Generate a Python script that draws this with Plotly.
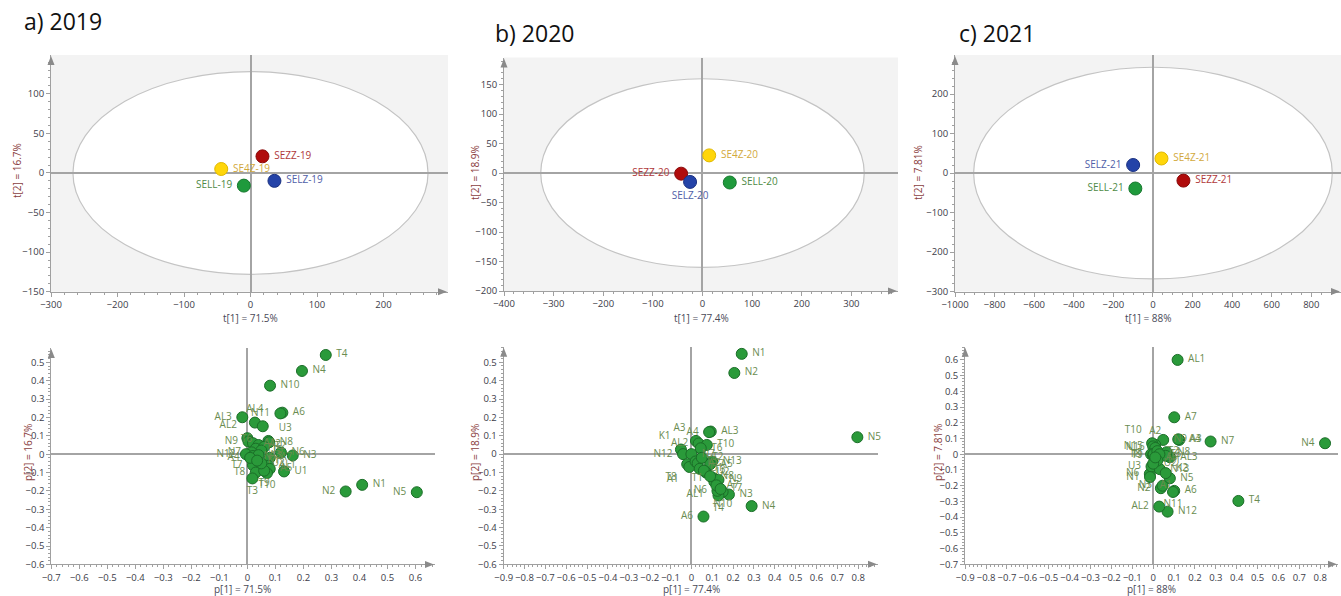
import plotly.graph_objects as go

W, H = 1341, 596

# ---------------- Score plots (top row) ----------------
score_names_19 = ["SEZZ-19", "SE4Z-19", "SELZ-19", "SELL-19"]
score_t1_19 = [18, -44, 36, -10]
score_t2_19 = [21, 5, -10, -16]

score_names_20 = ["SEZZ-20", "SE4Z-20", "SELZ-20", "SELL-20"]
score_t1_20 = [-43, 13.5, -25, 55]
score_t2_20 = [-1, 30, -15, -16]

score_names_21 = ["SEZZ-21", "SE4Z-21", "SELZ-21", "SELL-21"]
score_t1_21 = [154, 43, -100, -89]
score_t2_21 = [-19, 37, 20.5, -39]

# Hotelling T2 ellipse semi-axes (t1, t2)
ellipse_19 = (267, 128)
ellipse_20 = (326, 160)
ellipse_21 = (906, 268)

# ---------------- Loading plots (bottom row) ----------------
load_names_19 = ["T4", "N4", "N10", "A6", "N11", "AL3", "AL4", "T6", "U3", "N8", "AL2", "N9",
                 "A1", "A2", "T1", "T2", "T5", "N7", "N12", "N13", "A3", "N6", "A7", "AL1", "A5",
                 "T7", "T8", "T3", "T10", "T9", "U1", "U2", "N3", "N2", "N1", "N5", "A4", "K1"]
load_p1_19 = [0.28, 0.195, 0.081, 0.125, 0.118, -0.018, 0.027, 0.055, 0.075, 0.078, 0.0, 0.004,
              0.02, 0.04, 0.03, 0.06, 0.05, 0.015, -0.005, 0.02, 0.04, 0.12, 0.08, 0.075, 0.08,
              0.02, 0.03, 0.018, 0.07, 0.06, 0.131, 0.05, 0.162, 0.351, 0.41, 0.605, 0.01, 0.035]
load_p2_19 = [0.54, 0.453, 0.373, 0.226, 0.222, 0.201, 0.172, 0.152, 0.072, 0.065, 0.087, 0.069,
              0.06, 0.05, 0.03, 0.04, 0.02, 0.01, 0.0, -0.01, -0.005, 0.009, -0.02, -0.063, -0.08,
              -0.06, -0.1, -0.132, -0.103, -0.09, -0.094, -0.05, -0.007, -0.203, -0.167, -0.207, -0.02, -0.035]
load_pos_19 = ["middle right", "middle right", "middle right", "middle right", "middle left",
               "middle left", "top center", "bottom left", "top right", "middle right", "top left",
               "middle left", "middle right", "middle right", "middle right", "middle right",
               "middle right", "middle left", "middle left", "middle right", "middle right",
               "middle right", "middle right", "middle right", "middle right", "middle left",
               "middle left", "bottom center", "bottom center", "bottom center", "middle right",
               "middle right", "middle right", "middle left", "middle right", "middle left",
               "middle left", "middle right"]

load_names_20 = ["N1", "N2", "N5", "N4", "A6", "AL3", "A4", "A3", "AL2", "K1", "N12", "T10", "T6",
                 "N7", "T8", "A1", "T5", "A2", "N13", "A5", "T1", "AL1", "N9", "N3", "N10", "T4",
                 "N6", "U1", "U2", "T2", "T3", "N8", "A7", "T7"]
load_p1_20 = [0.2415, 0.206, 0.796, 0.289, 0.058, 0.093, 0.085, 0.022, 0.035, -0.05, -0.04, 0.074,
              0.045, 0.0, -0.02, -0.01, 0.02, 0.03, 0.1, 0.09, 0.106, 0.11, 0.13, 0.18, 0.15,
              0.13, 0.125, 0.04, 0.07, 0.05, 0.06, 0.09, 0.12, 0.14]
load_p2_20 = [0.546, 0.442, 0.092, -0.283, -0.34, 0.123, 0.12, 0.072, 0.058, 0.025, 0.0, 0.05,
              0.032, 0.0, -0.055, -0.07, -0.04, -0.05, -0.04, -0.055, -0.131, -0.15, -0.14, -0.22,
              -0.205, -0.225, -0.2, -0.08, -0.1, -0.02, -0.09, -0.12, -0.17, -0.19]
load_pos_20 = ["middle right", "middle right", "middle right", "middle right", "middle left",
               "middle right", "middle left", "top left", "middle left", "top left", "middle left",
               "middle right", "middle right", "middle right", "bottom left", "bottom left",
               "middle right", "middle right", "middle right", "middle right", "middle left",
               "bottom left", "middle right", "middle right", "bottom center", "bottom center",
               "middle left", "middle right", "middle right", "middle right", "middle right",
               "middle right", "middle right", "middle right"]

load_names_21 = ["AL1", "A7", "N7", "N4", "T4", "N12", "AL2", "A6", "N11", "N5", "N2", "N3", "N6",
                 "U3", "N13", "A1", "AL3", "A3", "A4", "N9", "A2", "T10", "N15", "N16", "T8",
                 "T9", "T1", "N8", "K2", "T2", "T3", "U1", "U2", "A5", "N1"]
load_p1_21 = [0.117, 0.101, 0.275, 0.823, 0.408, 0.069, 0.029, 0.101, 0.095, 0.08, 0.037, 0.045,
              -0.016, -0.008, 0.032, 0.06, 0.08, 0.125, 0.12, 0.048, 0.01, -0.005, 0.0, 0.01,
              -0.01, 0.0, 0.002, 0.064, 0.06, 0.02, 0.03, 0.02, 0.0, 0.01, -0.015]
load_p2_21 = [0.6, 0.235, 0.081, 0.07, -0.297, -0.365, -0.333, -0.233, -0.24, -0.153, -0.216, -0.2,
              -0.125, -0.078, -0.095, -0.12, -0.019, 0.091, 0.095, 0.091, 0.06, 0.07, 0.05, 0.04,
              0.0, -0.005, 0.0, 0.013, -0.01, 0.02, 0.0, -0.04, -0.06, -0.02, -0.145]
load_pos_21 = ["middle right", "middle right", "middle right", "middle left", "middle right",
               "middle right", "middle left", "middle right", "bottom center", "middle right",
               "middle left", "middle left", "middle left", "middle left", "middle right",
               "bottom center", "middle right", "middle right", "middle right", "middle right",
               "top center", "top left", "middle left", "middle left", "middle left",
               "middle left", "middle left", "middle right", "bottom right", "middle right",
               "middle right", "middle right", "middle right", "middle right", "middle left"]

titles = ["a) 2019", "b) 2020", "c) 2021"]
score_xtitles = ["t[1] = 71.5%", "t[1] = 77.4%", "t[1] = 88%"]
score_ytitles = ["t[2] = 16.7%", "t[2] = 18.9%", "t[2] = 7.81%"]
load_xtitles = ["p[1] = 71.5%", "p[1] = 77.4%", "p[1] = 88%"]
load_ytitles = ["p[2] = 16.7%", "p[2] = 18.9%", "p[2] = 7.81%"]

# ---------------- styles ----------------
group_marker = ["#b00c0c", "#ffd60a", "#2443a8", "#1f9a3c"]
group_line = ["#8a0a0a", "#e0b800", "#1a3080", "#16782e"]
group_text = ["#b0383a", "#d2a93c", "#5060a8", "#4e8a45"]
load_marker = "#2a9a3a"
load_outline = "#1b6e28"
load_text = "#6a8c50"
axis_col = "#a0a0a0"
tick_font = dict(family="Open Sans, sans-serif", size=9.5, color="#3c3c48")
FONT = "Open Sans, sans-serif"


def xd(p0, p1):
    return [p0 / W, p1 / W]


def yd(top, bottom):
    return [1 - bottom / H, 1 - top / H]


panels = [
    dict(px=(51, 448), py=(55, 291.7), xr=[-300, 297], yr=[-150, 149], xdt=100, ydt=50, xm=20, ym=10),
    dict(px=(504, 898), py=(57.5, 291), xr=[-400, 394], yr=[-200, 196], xdt=100, ydt=50, xm=20, ym=10),
    dict(px=(955, 1341), py=(55, 291.6), xr=[-1000, 950], yr=[-300, 299], xdt=200, ydt=100, xm=50, ym=20),
    dict(px=(51.3, 435), py=(348, 564.4), xr=[-0.7, 0.67], yr=[-0.6, 0.578], xdt=0.1, ydt=0.1, xm=0.02, ym=0.02),
    dict(px=(503.7, 878), py=(346.7, 564.3), xr=[-0.9, 0.895], yr=[-0.6, 0.585], xdt=0.1, ydt=0.1, xm=0.02, ym=0.02),
    dict(px=(965.2, 1338), py=(346.7, 564.3), xr=[-0.9, 0.885], yr=[-0.7, 0.684], xdt=0.1, ydt=0.1, xm=0.02, ym=0.02),
]

fig = go.Figure()
layout = dict(width=W, height=H, margin=dict(l=0, r=0, t=0, b=0, autoexpand=False), showlegend=False,
              paper_bgcolor="white", plot_bgcolor="white", font=dict(family=FONT))
shapes = []
annotations = []

for i, p in enumerate(panels, start=1):
    sfx = "" if i == 1 else str(i)
    common = dict(showgrid=False, zeroline=True, zerolinecolor="#a4a4a4", zerolinewidth=1.5,
                  showline=True, linecolor=axis_col, linewidth=1, ticks="outside", ticklen=4,
                  tickcolor=axis_col, tickfont=tick_font, fixedrange=True, automargin=False,
                  tickangle=0)
    xa = dict(common, domain=xd(*p["px"]), range=p["xr"], dtick=p["xdt"], tick0=0,
              anchor="y" + sfx, minor=dict(dtick=p["xm"], ticks="outside", ticklen=2, tickcolor=axis_col))
    ya = dict(common, domain=yd(*p["py"]), range=p["yr"], dtick=p["ydt"], tick0=0,
              anchor="x" + sfx, minor=dict(dtick=p["ym"], ticks="outside", ticklen=2, tickcolor=axis_col))
    if i >= 4:
        xa["tickformat"] = ".1~f"
        ya["tickformat"] = ".1~f"
    layout["xaxis" + sfx] = xa
    layout["yaxis" + sfx] = ya

    # axis arrows (paper coords)
    x0, x1 = p["px"]
    y0, y1 = p["py"]
    tipx = x1 - 1
    shapes.append(dict(type="path", xref="paper", yref="paper",
                       path=f"M {tipx/W},{1-y1/H} L {(tipx-9)/W},{1-(y1-3.5)/H} L {(tipx-9)/W},{1-(y1+3.5)/H} Z",
                       fillcolor="#8a8a8a", line=dict(width=0)))
    tipy = y0 + 1
    shapes.append(dict(type="path", xref="paper", yref="paper",
                       path=f"M {x0/W},{1-tipy/H} L {(x0-3.5)/W},{1-(tipy+9)/H} L {(x0+3.5)/W},{1-(tipy+9)/H} Z",
                       fillcolor="#8a8a8a", line=dict(width=0)))

# top-row backgrounds and ellipses
for i, e in zip([1, 2, 3], [ellipse_19, ellipse_20, ellipse_21]):
    sfx = "" if i == 1 else str(i)
    shapes.append(dict(type="rect", xref="x" + sfx + " domain", yref="y" + sfx + " domain",
                       x0=0, x1=1, y0=0, y1=1, fillcolor="#f3f3f3", line=dict(width=0), layer="below"))
    shapes.append(dict(type="circle", xref="x" + sfx, yref="y" + sfx,
                       x0=-e[0], x1=e[0], y0=-e[1], y1=e[1], fillcolor="white",
                       line=dict(color="#c4c4c4", width=1.2), layer="below"))

# score traces
score_sets = [(score_names_19, score_t1_19, score_t2_19, ["middle right", "middle right", "middle right", "middle left"]),
              (score_names_20, score_t1_20, score_t2_20, ["middle left", "middle right", "bottom center", "middle right"]),
              (score_names_21, score_t1_21, score_t2_21, ["middle right", "middle right", "middle left", "middle left"])]
for i, (nm, tx, ty, pos) in enumerate(score_sets, start=1):
    sfx = "" if i == 1 else str(i)
    fig.add_trace(go.Scatter(x=tx, y=ty, mode="markers+text", text=[" " + n + " " for n in nm],
                             textposition=pos, cliponaxis=False,
                             textfont=dict(family=FONT, size=10, color=group_text),
                             marker=dict(size=13, color=group_marker, line=dict(color=group_line, width=1)),
                             xaxis="x" + sfx, yaxis="y" + sfx, hoverinfo="skip"))

# loading traces
load_sets = [(load_names_19, load_p1_19, load_p2_19, load_pos_19),
             (load_names_20, load_p1_20, load_p2_20, load_pos_20),
             (load_names_21, load_p1_21, load_p2_21, load_pos_21)]
for i, (nm, px_, py_, pos) in enumerate(load_sets, start=4):
    sfx = str(i)
    fig.add_trace(go.Scatter(x=px_, y=py_, mode="markers+text", text=[" " + n + " " for n in nm],
                             textposition=pos, cliponaxis=False,
                             textfont=dict(family=FONT, size=10, color=load_text),
                             marker=dict(size=11, color=load_marker, line=dict(color=load_outline, width=1)),
                             xaxis="x" + sfx, yaxis="y" + sfx, hoverinfo="skip"))

# panel titles
for t, (xp, yp) in zip(titles, [(22, 21), (493, 33), (957, 33)]):
    annotations.append(dict(text=t, x=xp / W, y=1 - yp / H, xref="paper", yref="paper",
                            xanchor="left", yanchor="middle", showarrow=False,
                            font=dict(family=FONT, size=23, color="#111111")))

# axis titles
xt_pos_top = [250, 701, 1148]
yt_pos_top = [(17, 171), (475, 173), (918, 173)]
xt_pos_bot = [243, 691, 1151]
yt_pos_bot = [(28, 453), (475, 453), (938, 453)]
for t, xp in zip(score_xtitles, xt_pos_top):
    annotations.append(dict(text=t, x=xp / W, y=1 - 318 / H, xref="paper", yref="paper",
                            xanchor="center", yanchor="middle",
                            showarrow=False, font=dict(family=FONT, size=10, color="#4a4a58")))
for t, xp in zip(load_xtitles, xt_pos_bot):
    annotations.append(dict(text=t, x=xp / W, y=1 - 589 / H, xref="paper", yref="paper",
                            xanchor="center", yanchor="middle",
                            showarrow=False, font=dict(family=FONT, size=10, color="#4a4a58")))
for t, (xp, yp) in zip(score_ytitles + load_ytitles, yt_pos_top + yt_pos_bot):
    annotations.append(dict(text=t, x=xp / W, y=1 - yp / H, xref="paper", yref="paper",
                            xanchor="center", yanchor="middle",
                            showarrow=False, textangle=-90,
                            font=dict(family=FONT, size=10, color="#8a4040")))

layout["shapes"] = shapes
layout["annotations"] = annotations
fig.update_layout(**layout)
fig.write_html("out.html")
